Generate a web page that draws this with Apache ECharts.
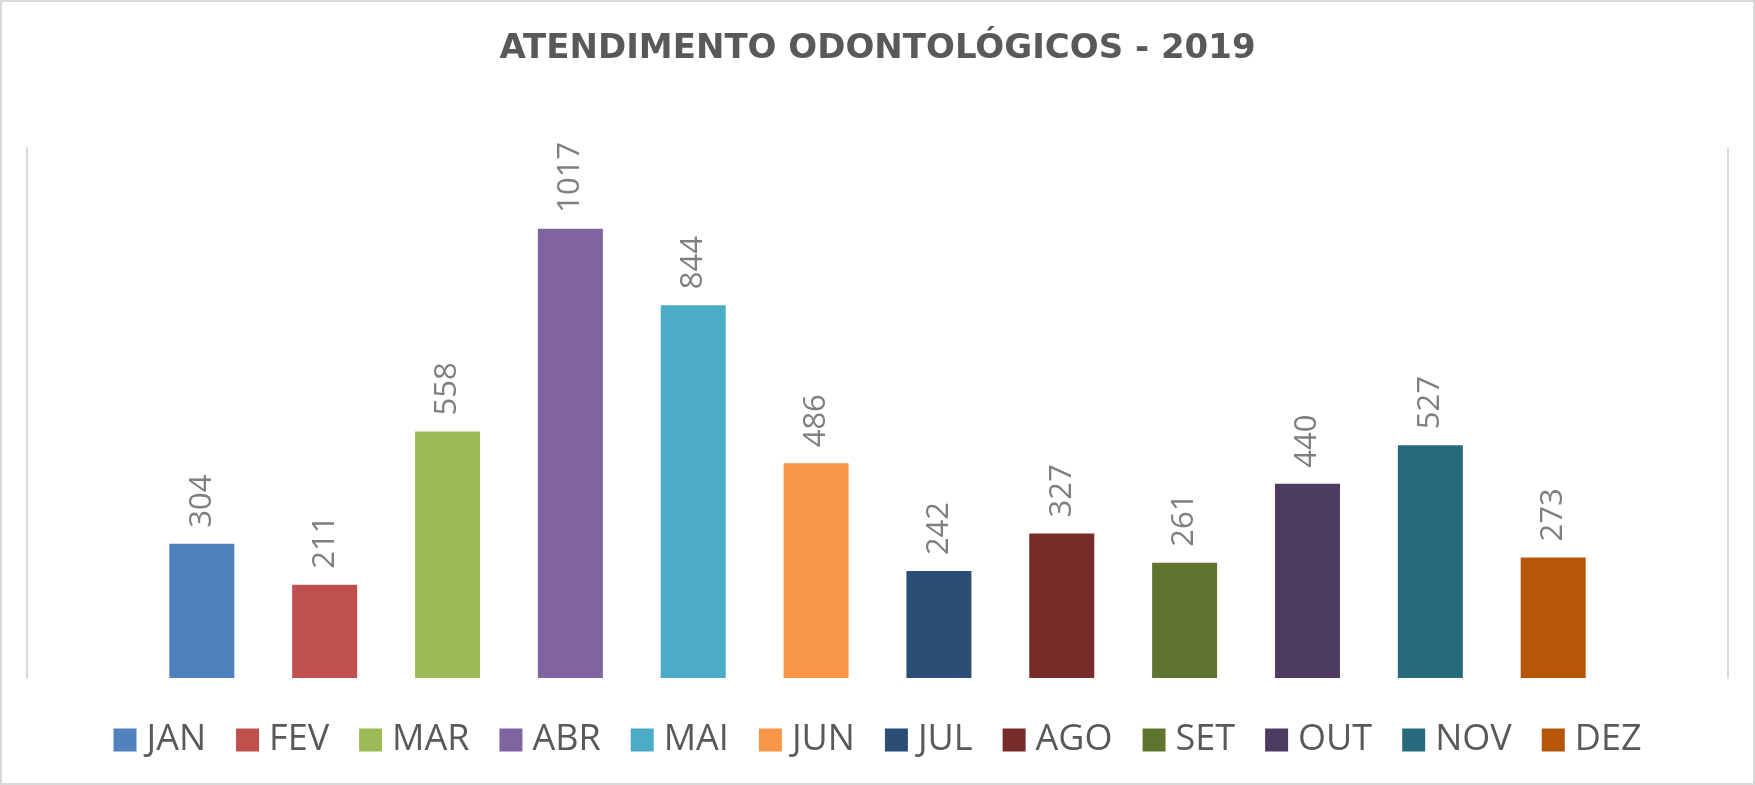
<!DOCTYPE html>
<html>
<head>
<meta charset="utf-8">
<script src="https://cdn.jsdelivr.net/npm/echarts@6/dist/echarts.min.js"></script>
<style>
  html, body { margin: 0; padding: 0; background: #fff; }
  #chart { width: 1755px; height: 785px; }
</style>
</head>
<body>
<div id="chart"></div>
<script>
const months = ['JAN', 'FEV', 'MAR', 'ABR', 'MAI', 'JUN', 'JUL', 'AGO', 'SET', 'OUT', 'NOV', 'DEZ']
const atendimentos = [304, 211, 558, 1017, 844, 486, 242, 327, 261, 440, 527, 273]
const colors = ['#4f81bd', '#c0504d', '#9bbb59', '#8064a2', '#4bacc6', '#f79646',
  '#2c4d75', '#772c2a', '#5f7530', '#4d3b62', '#276a7c', '#b65708']
const category = ['2019']

const chart = echarts.init(document.getElementById('chart'))

// um series por mes, todos na mesma categoria (igual ao grafico do Excel)
const series = months.map((m, i) => ({
  name: m,
  type: 'bar',
  data: [atendimentos[i]],
  barWidth: 65,
  barGap: '89%',
  itemStyle: { color: colors[i] },
  label: {
    show: true,
    position: 'top',
    rotate: 90,
    align: 'left',
    verticalAlign: 'middle',
    distance: 16,
    color: '#7f7f7f',
    fontSize: 31,
    fontFamily: 'Open Sans'
  }
}))

chart.setOption({
  animation: false,
  color: colors,
  title: {
    text: 'ATENDIMENTO ODONTOLÓGICOS - 2019',
    left: 'center',
    top: 27,
    textStyle: {
      color: '#595959',
      fontSize: 34,
      fontWeight: 'bold',
      fontFamily: 'DejaVu Sans'
    }
  },
  legend: {
    bottom: 22,
    left: 'center',
    itemWidth: 23,
    itemHeight: 23,
    itemGap: 30,
    icon: 'rect',
    textStyle: {
      color: '#595959',
      fontSize: 36,
      fontFamily: 'Open Sans',
      padding: [0, 0, 0, 5]
    }
  },
  grid: {
    left: 27,
    right: 27,
    top: 148,
    bottom: 107
  },
  xAxis: {
    type: 'category',
    data: category,
    axisLine: { show: false },
    axisTick: { show: false },
    axisLabel: { show: false }
  },
  yAxis: [{
    type: 'value',
    min: 0,
    max: 1200,
    position: 'left',
    axisLine: { show: true, lineStyle: { color: '#d9d9d9', width: 2 } },
    axisTick: { show: false },
    axisLabel: { show: false },
    splitLine: { show: false }
  }, {
    type: 'value',
    min: 0,
    max: 1200,
    position: 'right',
    axisLine: { show: true, lineStyle: { color: '#d9d9d9', width: 2 } },
    axisTick: { show: false },
    axisLabel: { show: false },
    splitLine: { show: false }
  }],
  graphic: [{
    type: 'rect',
    shape: { x: 1, y: 1, width: 1753, height: 783 },
    style: { fill: 'none', stroke: '#d9d9d9', lineWidth: 2 },
    silent: true
  }],
  series
})
</script>
</body>
</html>
